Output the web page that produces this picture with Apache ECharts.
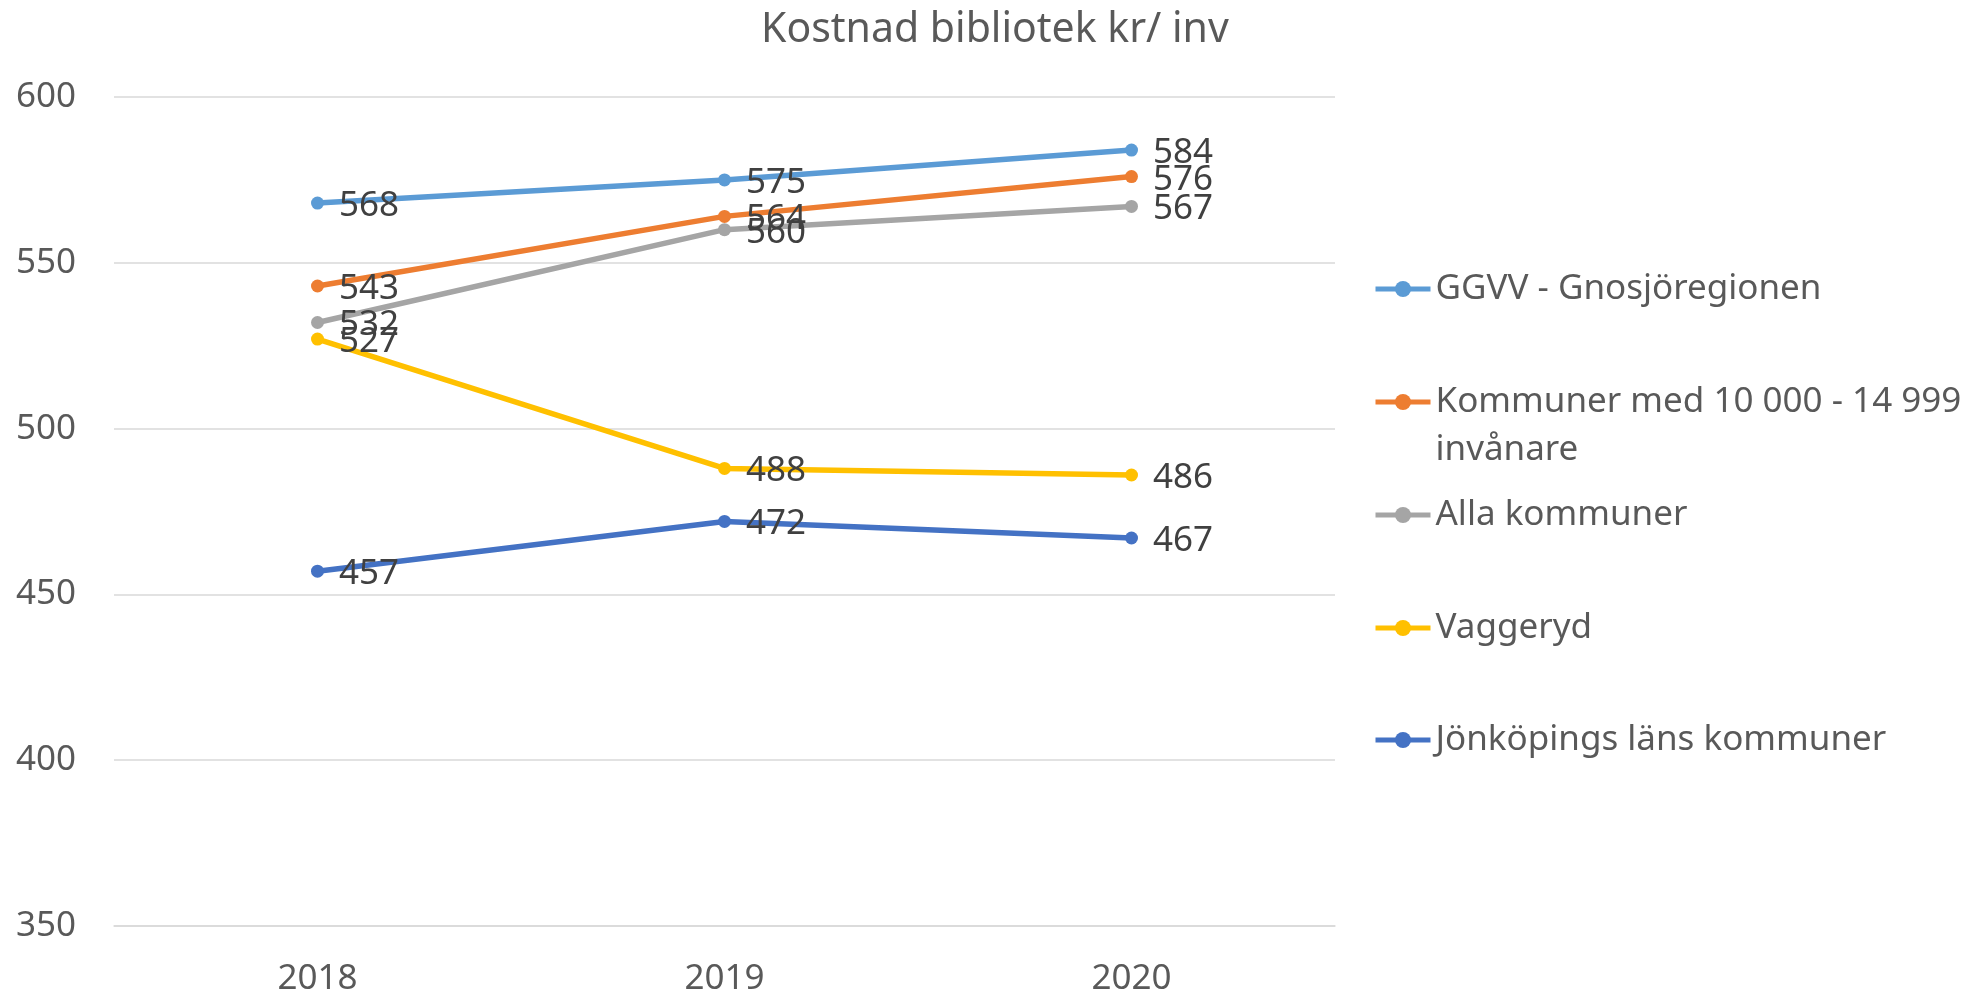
<!DOCTYPE html>
<html>
<head>
<meta charset="utf-8">
<script src="https://cdn.jsdelivr.net/npm/echarts@6/dist/echarts.min.js"></script>
<style>
  html, body { margin: 0; padding: 0; background: #fff; }
  #chart { width: 1975px; height: 997px; }
</style>
</head>
<body>
<div id="chart"></div>
<script>
// data
const years = ['2018', '2019', '2020'];
const seriesNames = [
  'GGVV - Gnosjöregionen',
  'Kommuner med 10 000 - 14 999 invånare',
  'Alla kommuner',
  'Vaggeryd',
  'Jönköpings läns kommuner'
];
const ggvv = [568, 575, 584];
const kommuner10000 = [543, 564, 576];
const allaKommuner = [532, 560, 567];
const vaggeryd = [527, 488, 486];
const jonkopingsLan = [457, 472, 467];
const seriesValues = [ggvv, kommuner10000, allaKommuner, vaggeryd, jonkopingsLan];
const colors = ['#5B9BD5', '#ED7D31', '#A5A5A5', '#FFC000', '#4472C4'];

const FONT = '"Noto Sans", "Open Sans", sans-serif';

const chart = echarts.init(document.getElementById('chart'));

// legend centre (y) of each item's first line
const legendCentres = [289, 402, 515, 628, 740];
const LH = 48;

const legends = seriesNames.map((name, i) => {
  const twoLine = name.indexOf('invånare') > -1;
  return {
    data: [name],
    left: 1373,
    // two-line item: a blank first line keeps the icon level with the first text line
    top: twoLine ? legendCentres[i] - LH * 1.5 : legendCentres[i] - LH / 2,
    padding: 0,
    itemWidth: 55,
    itemHeight: 20,
    itemGap: 0,
    lineStyle: { width: 5 },
    formatter: (n) => n.indexOf(' invånare') > -1 ? '\n' + n.replace(' invånare', '\ninvånare') : n,
    textStyle: {
      fontFamily: FONT,
      fontSize: 35,
      color: '#595959',
      lineHeight: LH
    }
  };
});

const series = seriesNames.map((name, i) => ({
  name: name,
  type: 'line',
  data: seriesValues[i],
  symbol: 'circle',
  symbolSize: 13,
  color: colors[i],
  lineStyle: { width: 5.5, color: colors[i] },
  itemStyle: { color: colors[i] },
  label: {
    show: true,
    position: 'right',
    distance: 15,
    offset: [0, 3],
    fontFamily: FONT,
    fontSize: 35,
    color: '#404040'
  },
  emphasis: { disabled: true }
}));

chart.setOption({
  animation: false,
  backgroundColor: '#fff',
  title: {
    text: 'Kostnad bibliotek kr/ inv',
    left: 761,
    top: 10,
    padding: 0,
    textStyle: {
      fontFamily: FONT,
      fontSize: 41,
      fontWeight: 'normal',
      color: '#595959'
    }
  },
  legend: legends,
  grid: {
    left: 114,
    right: 640,
    top: 97,
    bottom: 69
  },
  xAxis: {
    type: 'category',
    data: years,
    boundaryGap: true,
    axisLine: { lineStyle: { color: '#D9D9D9', width: 1.5 } },
    axisTick: { show: false },
    axisLabel: {
      fontFamily: FONT,
      fontSize: 35,
      color: '#595959',
      margin: 36
    }
  },
  yAxis: {
    type: 'value',
    min: 350,
    max: 600,
    interval: 50,
    axisLine: { show: false },
    axisTick: { show: false },
    splitLine: { lineStyle: { color: '#D9D9D9', width: 1.5 } },
    axisLabel: {
      fontFamily: FONT,
      fontSize: 35,
      color: '#595959',
      margin: 38
    }
  },
  series: series
});
</script>
</body>
</html>
